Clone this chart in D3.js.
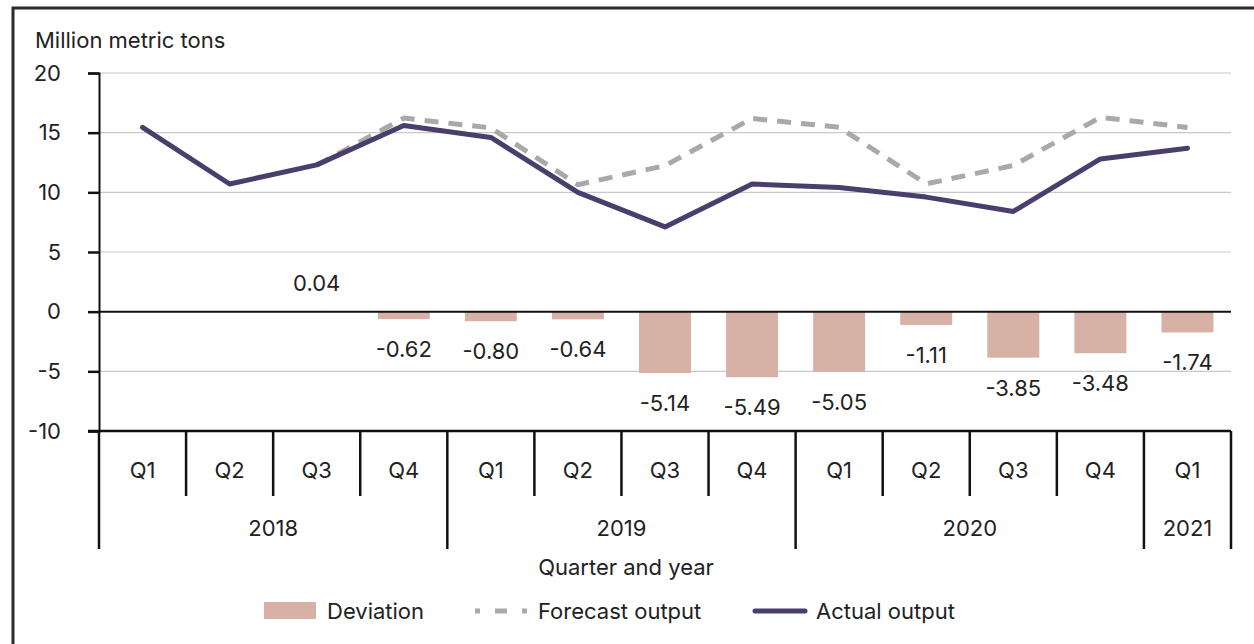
<!DOCTYPE html>
<html>
<head>
<meta charset="utf-8">
<script src="https://cdn.jsdelivr.net/npm/d3@7"></script>
<style>
  body { margin: 0; background: #fff; }
  svg text { font-family: Inter, "Noto Sans", sans-serif; fill: #222; font-size: 22px; }
</style>
</head>
<body>
<svg id="chart" width="1254" height="644"></svg>
<script>
// data
var quarters = ["Q1","Q2","Q3","Q4","Q1","Q2","Q3","Q4","Q1","Q2","Q3","Q4","Q1"];
var years = [{year: "2018", n: 4}, {year: "2019", n: 4}, {year: "2020", n: 4}, {year: "2021", n: 1}];
var actual = [15.45, 10.7, 12.3, 15.6, 14.6, 10.0, 7.1, 10.7, 10.4, 9.6, 8.4, 12.8, 13.7];
var forecast = [null, null, 12.26, 16.22, 15.4, 10.64, 12.24, 16.19, 15.45, 10.71, 12.25, 16.28, 15.44];
var deviation = [null, null, 0.04, -0.62, -0.80, -0.64, -5.14, -5.49, -5.05, -1.11, -3.85, -3.48, -1.74];
var yTicks = [20, 15, 10, 5, 0, -5, -10];

var svg = d3.select("#chart");
var margin = {left: 99, right: 1231, top: 73, bottom: 431};

// hyphen instead of the unicode minus d3 uses
function fmt(spec) {
    var f = d3.format(spec);
    return function(v){ return f(v).replace("\u2212", "-"); };
}

// outer frame, runs off the right and bottom edge
svg.append("path")
    .attr("d", "M13,660 L13,8 L1270,8")
    .attr("fill", "none")
    .attr("stroke", "#2b2b2b")
    .attr("stroke-width", 3);

var idx = d3.range(quarters.length);
var x = d3.scaleBand().domain(idx).range([margin.left, margin.right]);
var y = d3.scaleLinear().domain([-10, 20]).range([margin.bottom, margin.top]);

//gridlines
svg.append("g").selectAll("line")
    .data(yTicks.filter(function(d){ return d != 0 && d != -10; }))
    .enter().append("line")
    .attr("x1", margin.left).attr("x2", margin.right)
    .attr("y1", function(d){ return y(d); }).attr("y2", function(d){ return y(d); })
    .attr("stroke", "#c8c8c8").attr("stroke-width", 1.2);

// y axis
var yAxis = svg.append("g")
    .attr("transform", "translate(" + margin.left + ",0)")
    .call(d3.axisLeft(y).tickValues(yTicks).tickSize(11).tickPadding(27).tickFormat(fmt("d")));
yAxis.select(".domain").attr("stroke", "#111").attr("stroke-width", 2);
yAxis.selectAll(".tick line").attr("stroke", "#111").attr("stroke-width", 2.5);
yAxis.selectAll(".tick text").attr("font-size", null).attr("font-family", null).attr("fill", "#222");

svg.append("text")
    .attr("x", 35).attr("y", 48)
    .text("Million metric tons");

// deviation bars
var bw = 52;
var devData = idx.filter(function(i){ return deviation[i] != null; });
svg.append("g").selectAll("rect")
    .data(devData)
    .enter().append("rect")
    .attr("x", function(i){ return x(i) + x.bandwidth()/2 - bw/2; })
    .attr("width", bw)
    .attr("y", function(i){ return y(Math.max(0, deviation[i])); })
    .attr("height", function(i){ return Math.abs(y(deviation[i]) - y(0)); })
    .attr("fill", "#d8b1a6");

svg.append("g").selectAll("text")
    .data(devData)
    .enter().append("text")
    .attr("x", function(i){ return x(i) + x.bandwidth()/2; })
    .attr("y", function(i){ return deviation[i] >= 0 ? y(deviation[i]) - 20 : y(deviation[i]) + 38; })
    .attr("text-anchor", "middle")
    .text(function(i){ return fmt(".2f")(deviation[i]); });

// zero line
svg.append("line")
    .attr("x1", margin.left).attr("x2", margin.right)
    .attr("y1", y(0)).attr("y2", y(0))
    .attr("stroke", "#111").attr("stroke-width", 2);

// category axis
var cat = svg.append("g");
cat.append("line")
    .attr("x1", margin.left - 11).attr("x2", margin.right)
    .attr("y1", y(-10)).attr("y2", y(-10))
    .attr("stroke", "#111").attr("stroke-width", 2.5);

var yearBounds = [0];
years.forEach(function(d){ yearBounds.push(yearBounds[yearBounds.length - 1] + d.n); });

cat.selectAll("line.qdiv")
    .data(d3.range(1, quarters.length).filter(function(i){ return yearBounds.indexOf(i) < 0; }))
    .enter().append("line")
    .attr("class", "qdiv")
    .attr("x1", function(i){ return x(i); }).attr("x2", function(i){ return x(i); })
    .attr("y1", y(-10)).attr("y2", 496)
    .attr("stroke", "#111").attr("stroke-width", 2.5);

cat.selectAll("line.ydiv")
    .data(yearBounds)
    .enter().append("line")
    .attr("class", "ydiv")
    .attr("x1", function(i){ return i < quarters.length ? x(i) : margin.right; })
    .attr("x2", function(i){ return i < quarters.length ? x(i) : margin.right; })
    .attr("y1", y(-10)).attr("y2", 549)
    .attr("stroke", "#111").attr("stroke-width", 2.5);

cat.selectAll("text.q")
    .data(idx)
    .enter().append("text")
    .attr("class", "q")
    .attr("x", function(i){ return x(i) + x.bandwidth()/2; })
    .attr("y", 478)
    .attr("text-anchor", "middle")
    .text(function(i){ return quarters[i]; });

cat.selectAll("text.yr")
    .data(years)
    .enter().append("text")
    .attr("class", "yr")
    .attr("x", function(d, k){
        var a = x(yearBounds[k]);
        var b = yearBounds[k+1] < quarters.length ? x(yearBounds[k+1]) : margin.right;
        return (a + b) / 2;
    })
    .attr("y", 536)
    .attr("text-anchor", "middle")
    .text(function(d){ return d.year; });

svg.append("text")
    .attr("x", 626).attr("y", 575)
    .attr("text-anchor", "middle")
    .text("Quarter and year");

// lines
var line = d3.line()
    .defined(function(d){ return d.v != null; })
    .x(function(d){ return x(d.i) + x.bandwidth()/2; })
    .y(function(d){ return y(d.v); });

svg.append("path")
    .datum(idx.map(function(i){ return {i: i, v: forecast[i]}; }))
    .attr("d", line)
    .attr("fill", "none")
    .attr("stroke", "#a9a9a9")
    .attr("stroke-width", 5)
    .attr("stroke-dasharray", "14,10");

svg.append("path")
    .datum(idx.map(function(i){ return {i: i, v: actual[i]}; }))
    .attr("d", line)
    .attr("fill", "none")
    .attr("stroke", "#4a3e6d")
    .attr("stroke-width", 5)
    .attr("stroke-linejoin", "round")
    .attr("stroke-linecap", "round");

// legend
var lg = svg.append("g");
lg.append("rect").attr("x", 264).attr("y", 602).attr("width", 52).attr("height", 17).attr("fill", "#d8b1a6");
lg.append("text").attr("x", 327).attr("y", 619).text("Deviation");
lg.append("line").attr("x1", 475).attr("x2", 527).attr("y1", 611).attr("y2", 611)
    .attr("stroke", "#a9a9a9").attr("stroke-width", 5).attr("stroke-dasharray", "5,15,12,15,5");
lg.append("text").attr("x", 538).attr("y", 619).text("Forecast output");
lg.append("line").attr("x1", 755).attr("x2", 805).attr("y1", 611).attr("y2", 611)
    .attr("stroke", "#4a3e6d").attr("stroke-width", 5).attr("stroke-linecap", "round");
lg.append("text").attr("x", 816).attr("y", 619).text("Actual output");
</script>
</body>
</html>
